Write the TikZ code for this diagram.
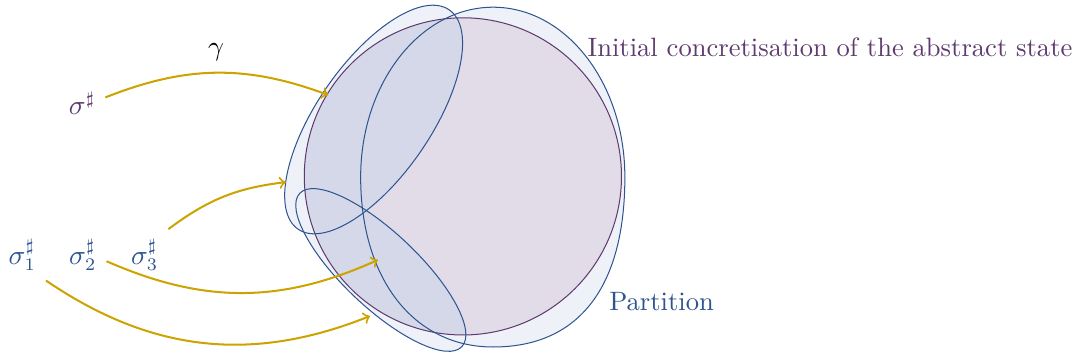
\documentclass[tikz,border=0pt]{standalone}
\usetikzlibrary{positioning}
\definecolor{abspurple}{RGB}{94,58,110}
\definecolor{partblue}{RGB}{46,84,144}
\definecolor{gammagold}{RGB}{204,163,0}
\definecolor{partfill}{RGB}{238,242,248}
\definecolor{concrfill}{RGB}{225,220,232}
\definecolor{blockfill}{RGB}{213,216,232}
\newcommand\bigblock{(6.85,4.94) .. controls (7.86,4.94) and (8.68,3.89) .. (8.68,2.58)
	.. controls (8.68,1.05) and (8.04,0.22) .. (6.85,0.22)
	.. controls (5.75,0.22) and (5.01,1.16) .. (5.01,2.58)
	.. controls (5.01,3.89) and (5.84,4.94) .. cycle}
\newcommand\topblock{(5.19,3.38) circle [x radius=1.85, y radius=0.79, rotate=55.4]}
\newcommand\lowblock{(5.29,1.29) circle [x radius=1.55, y radius=0.52, rotate=-43.4]}
\newcommand\concr{(6.43,2.59) circle (2.203)}
\begin{document}
\begin{tikzpicture}[
	font=\fontsize{10.5}{12.6}\selectfont,
	lab/.style={inner sep=1pt,outer sep=3pt},
	gam/.style={->,thick,gammagold},
	]
	\useasboundingbox (0,0) rectangle (15.03,5.04);
	\fill[partfill] \bigblock;
	\fill[partfill] \topblock;
	\fill[partfill] \lowblock;
	\fill[concrfill] \concr;
	\begin{scope}
		\clip \concr;
		\fill[blockfill] \topblock;
		\fill[blockfill] \lowblock;
	\end{scope}
	\draw[abspurple] \concr;
	\draw[partblue] \bigblock;
	\draw[partblue] \topblock;
	\draw[partblue] \lowblock;
	\node[lab,abspurple] (sig) at (1.14,3.60) {$\sigma^\sharp$};
	\node[lab,partblue] (s1) at (0.31,1.50) {$\sigma^\sharp_1$};
	\node[lab,partblue] (s2) at (1.15,1.50) {$\sigma^\sharp_2$};
	\node[lab,partblue] (s3) at (2.01,1.50) {$\sigma^\sharp_3$};
	\node (gamma) at (3.00,4.32) {$\gamma$};
	\node[anchor=west,abspurple] (concrlabel) at (8.04,4.39) {Initial concretisation of the abstract state};
	\node[anchor=west,partblue] (partlabel) at (8.34,0.85) {Partition};
	\coordinate (t0) at (4.56,3.72);
	\coordinate (t3) at (3.97,2.51);
	\coordinate (t2) at (5.25,1.43);
	\coordinate (t1) at (5.14,0.65);
	\draw[gam] (sig.15) to [bend left=21] (t0);
	\draw[gam] (s3.north east) to [bend left=15] (t3);
	\draw[gam] (s2.-15) to [bend right=24] (t2);
	\draw[gam] (s1.south east) to [bend right=28] (t1);
\end{tikzpicture}
\end{document}
